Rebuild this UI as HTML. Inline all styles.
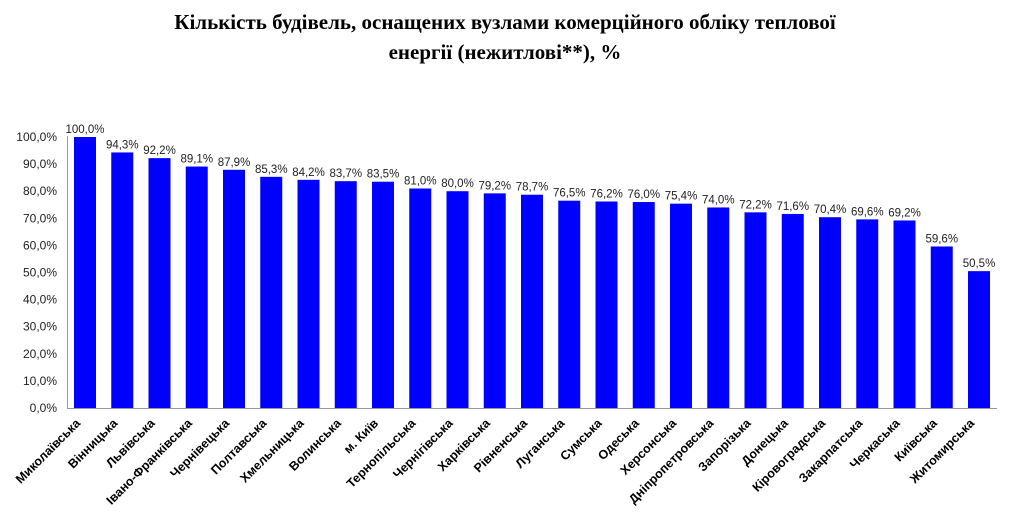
<!DOCTYPE html>
<html><head><meta charset="utf-8"><style>
body{margin:0;background:#fff;width:1009px;height:525px;overflow:hidden}
</style></head><body>
<svg width="1009" height="525" xmlns="http://www.w3.org/2000/svg">
<text x="505" y="29" text-anchor="middle" font-family="Liberation Serif, serif" font-weight="bold" font-size="21">Кількість будівель, оснащених вузлами комерційного обліку теплової</text>
<text x="505" y="59" text-anchor="middle" font-family="Liberation Serif, serif" font-weight="bold" font-size="21">енергії (нежитлові**), %</text>
<g id="c"></g>
</svg>
<script>
const names=["Миколаївська","Вінницька","Львівська","Івано-Франківська","Чернівецька","Полтавська","Хмельницька","Волинська","м. Київ","Тернопільська","Чернігівська","Харківська","Рівненська","Луганська","Сумська","Одеська","Херсонська","Дніпропетровська","Запорізька","Донецька","Кіровоградська","Закарпатська","Черкаська","Київська","Житомирська"];
const v=[100,94.3,92.2,89.1,87.9,85.3,84.2,83.7,83.5,81,80,79.2,78.7,76.5,76.2,76,75.4,74,72.2,71.6,70.4,69.6,69.2,59.6,50.5];
const y0=408,k=2.71;let s='';
for(let i=0;i<=10;i++){const y=y0-i*10*k;s+=`<text x="57" y="${y+4}" text-anchor="end" font-family="Liberation Sans, sans-serif" font-size="12" fill="#222">${(i*10).toFixed(1).replace('.',',')}%</text>`;}
v.forEach((d,i)=>{const x=74+i*37.25,h=d*k,c=x+11;
s+=`<rect x="${x}" y="${y0-h}" width="22" height="${h}" fill="#0000ff"/>`;
s+=`<text x="${c}" y="${y0-h-4}" text-anchor="middle" font-family="Liberation Sans, sans-serif" font-size="11.5" fill="#222">${d.toFixed(1).replace('.',',')}%</text>`;
s+=`<text transform="translate(${c-4},${y0+16}) rotate(-45)" text-anchor="end" font-family="Liberation Sans, sans-serif" font-weight="bold" font-size="12.5" fill="#000">${names[i]}</text>`;});
s+=`<line x1="67.5" y1="136" x2="67.5" y2="${y0+0.5}" stroke="#999"/><line x1="67" y1="${y0+0.5}" x2="997" y2="${y0+0.5}" stroke="#999"/>`;
document.getElementById('c').innerHTML=s;
</script>
</body></html>
